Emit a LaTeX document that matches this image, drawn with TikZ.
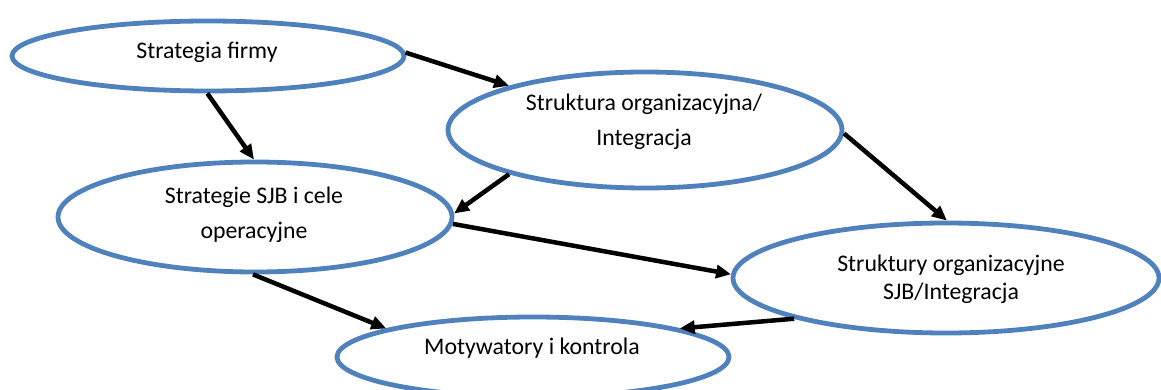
\documentclass[tikz,border=0pt]{standalone}
\usepackage{fontspec}
\setmainfont{Carlito}
\usetikzlibrary{shapes.geometric,arrows.meta}
\definecolor{ovalblue}{RGB}{79,129,189}
\begin{document}
\begin{tikzpicture}[x=1pt,y=-1pt,
  oval/.style={draw=ovalblue, line width=4.8pt, ellipse, inner sep=0pt, fill=white},
  lbl/.style={font=\fontsize{23.8}{35}\selectfont, align=center, inner sep=0pt},
  link/.style={line width=4.5pt, -{Triangle[length=15pt,width=13pt]}}
]
\useasboundingbox (0,0) rectangle (1161,390);

% ovals
\node[oval, minimum width=392pt, minimum height=70pt]  (e1) at (208,56)  {};
\node[oval, minimum width=394pt, minimum height=116pt] (e2) at (645,130) {};
\node[oval, minimum width=394pt, minimum height=110pt] (e3) at (255,217) {};
\node[oval, minimum width=426pt, minimum height=110pt] (e4) at (946,278) {};
\node[oval, minimum width=392pt, minimum height=80pt]  (e5) at (533,357) {};

% labels
\node[lbl] (t1) at (207,52)  {Strategia firmy};
\node[lbl] (t2) at (644,122) {Struktura organizacyjna/\\Integracja};
\node[lbl] (t3) at (254,215) {Strategie SJB i cele\\operacyjne};
\node[lbl, font=\fontsize{23.8}{28}\selectfont] (t4) at (951,279) {Struktury organizacyjne\\SJB/Integracja};
\node[lbl] (t5) at (532,348) {Motywatory i kontrola};

% connectors
\draw[link] (e1.269) -- (e3.91);
\draw[link] (e1.1)   -- (e2.162);
\draw[link] (e2.198) -- (e3.1);
\draw[link] (e3.-2)  -- (e4.179);
\draw[link] (e2.-1)  -- (e4.89);
\draw[link] (e3.268) -- (e5.169);
\draw[link] (e4.195) -- (e5.11);
\end{tikzpicture}
\end{document}
